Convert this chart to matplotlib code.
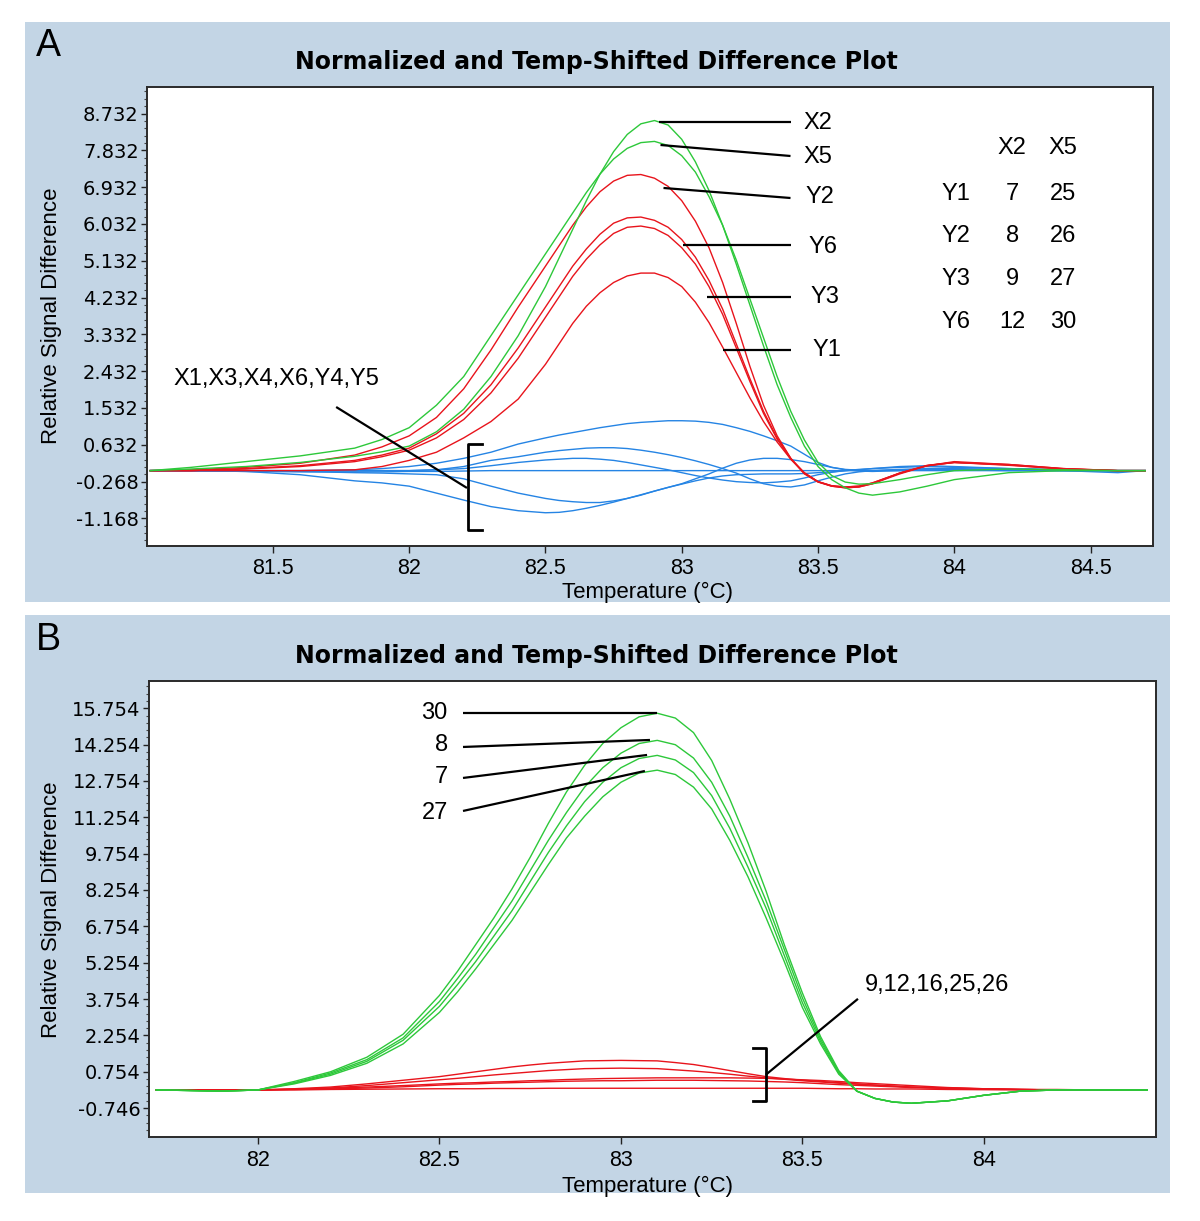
import matplotlib
matplotlib.use("Agg")
import matplotlib.pyplot as plt
from matplotlib.patches import Rectangle
from matplotlib.ticker import FixedLocator, NullFormatter

# ---------------- data : panel A ----------------
TEMP_A = [81.05, 81.2, 81.4, 81.6, 81.8, 81.9, 82.0, 82.1, 82.2, 82.3, 82.4,
          82.5, 82.55, 82.6, 82.65, 82.7, 82.75, 82.8, 82.85, 82.9, 82.95,
          83.0, 83.05, 83.1, 83.15, 83.2, 83.25, 83.3, 83.35, 83.4, 83.45,
          83.5, 83.55, 83.6, 83.65, 83.7, 83.8, 83.9, 84.0, 84.2, 84.4, 84.6, 84.7]

A_X2 = [0.0, 0.04, 0.1, 0.2, 0.35, 0.46, 0.6, 0.95, 1.5, 2.3, 3.3,
        4.5, 5.2, 5.9, 6.6, 7.25, 7.8, 8.22, 8.48, 8.56, 8.45,
        8.1, 7.55, 6.85, 6.0, 5.05, 4.05, 3.05, 2.1, 1.3, 0.6,
        0.1, -0.22, -0.42, -0.55, -0.6, -0.52, -0.38, -0.22, -0.05, 0.0, 0.0, 0.0]
A_X5 = [0.0, 0.08, 0.22, 0.36, 0.55, 0.76, 1.05, 1.6, 2.3, 3.3, 4.3,
        5.3, 5.8, 6.3, 6.8, 7.25, 7.62, 7.88, 8.02, 8.05, 7.95,
        7.7, 7.3, 6.7, 6.0, 5.15, 4.2, 3.25, 2.3, 1.45, 0.75,
        0.2, -0.12, -0.28, -0.33, -0.32, -0.22, -0.1, 0.0, 0.04, 0.02, 0.0, 0.0]
A_Y2 = [0.0, 0.02, 0.08, 0.18, 0.38, 0.58, 0.85, 1.3, 2.0, 2.95, 4.0,
        5.0, 5.5, 6.0, 6.45, 6.82, 7.08, 7.22, 7.24, 7.15, 6.95,
        6.6, 6.1, 5.45, 4.6, 3.6, 2.55, 1.6, 0.85, 0.3, -0.08,
        -0.28, -0.38, -0.42, -0.4, -0.32, -0.08, 0.12, 0.22, 0.15, 0.05, 0.0, 0.0]
A_Y6 = [0.0, 0.0, 0.05, 0.12, 0.25, 0.38, 0.55, 0.9, 1.4, 2.1, 3.0,
        4.0, 4.5, 5.0, 5.42, 5.78, 6.05, 6.18, 6.2, 6.12, 5.95,
        5.65, 5.22, 4.65, 3.95, 3.1, 2.25, 1.45, 0.8, 0.3, -0.06,
        -0.27, -0.37, -0.4, -0.38, -0.3, -0.06, 0.12, 0.2, 0.14, 0.04, 0.0, 0.0]
A_Y3 = [0.0, 0.0, 0.04, 0.1, 0.22, 0.34, 0.5, 0.8, 1.25, 1.9, 2.75,
        3.75, 4.25, 4.75, 5.17, 5.52, 5.8, 5.95, 5.98, 5.92, 5.75,
        5.45, 5.05, 4.5, 3.82, 3.0, 2.18, 1.4, 0.77, 0.28, -0.07,
        -0.27, -0.37, -0.4, -0.38, -0.3, -0.06, 0.12, 0.2, 0.13, 0.04, 0.0, 0.0]
A_Y1 = [0.0, 0.0, 0.0, 0.0, 0.02, 0.1, 0.25, 0.45, 0.8, 1.2, 1.75,
        2.6, 3.1, 3.6, 4.02, 4.35, 4.6, 4.76, 4.83, 4.83, 4.72,
        4.5, 4.12, 3.62, 3.02, 2.4, 1.78, 1.2, 0.7, 0.28, -0.05,
        -0.27, -0.38, -0.42, -0.4, -0.32, -0.06, 0.13, 0.2, 0.15, 0.05, 0.0, 0.0]

A_B1 = [0.0, 0.0, 0.0, 0.0, 0.02, 0.05, 0.1, 0.18, 0.3, 0.45, 0.65,
        0.8, 0.87, 0.93, 0.99, 1.05, 1.1, 1.15, 1.18, 1.2, 1.22,
        1.22, 1.21, 1.18, 1.13, 1.05, 0.96, 0.85, 0.73, 0.6, 0.4,
        0.2, 0.08, 0.03, 0.01, 0.0, 0.02, 0.05, 0.05, 0.03, 0.0, 0.0, 0.0]
A_B2 = [0.0, 0.0, 0.0, 0.0, 0.0, 0.0, 0.0, 0.02, 0.1, 0.25, 0.34,
        0.45, 0.49, 0.52, 0.55, 0.56, 0.56, 0.54, 0.5, 0.45, 0.39,
        0.32, 0.24, 0.15, 0.05, -0.06, -0.2, -0.32, -0.38, -0.4, -0.35,
        -0.25, -0.16, -0.08, -0.03, 0.0, 0.03, 0.04, 0.03, 0.02, 0.0, 0.0, 0.0]
A_B3 = [0.0, 0.0, 0.0, 0.0, 0.0, 0.0, 0.0, 0.02, 0.05, 0.12, 0.2,
        0.26, 0.28, 0.3, 0.3, 0.28, 0.25, 0.2, 0.14, 0.08, 0.02,
        -0.05, -0.12, -0.18, -0.23, -0.27, -0.29, -0.3, -0.28, -0.25, -0.18,
        -0.1, -0.04, 0.0, 0.03, 0.05, 0.08, 0.1, 0.08, 0.05, 0.02, 0.0, 0.0]
A_B4 = [0.0, 0.0, -0.02, -0.03, -0.03, -0.03, -0.02, -0.02, -0.01, 0.0, 0.0,
        0.0, 0.0, 0.0, 0.0, 0.0, 0.0, 0.0, 0.0, 0.0, 0.0,
        0.0, 0.0, 0.0, 0.0, 0.0, 0.0, 0.0, 0.0, 0.0, 0.0,
        0.0, 0.0, 0.0, 0.0, 0.0, 0.0, 0.0, 0.0, 0.0, 0.0, -0.05, 0.0]
A_B5 = [0.0, 0.0, 0.0, -0.02, -0.05, -0.06, -0.08, -0.1, -0.2, -0.38, -0.55,
        -0.68, -0.73, -0.76, -0.78, -0.78, -0.74, -0.68, -0.6, -0.5, -0.41,
        -0.32, -0.2, -0.08, 0.06, 0.18, 0.26, 0.3, 0.3, 0.27, 0.22,
        0.15, 0.08, 0.02, -0.01, -0.02, 0.0, 0.02, 0.02, 0.0, 0.0, 0.0, 0.0]
A_B6 = [0.0, 0.0, -0.02, -0.1, -0.25, -0.3, -0.38, -0.55, -0.72, -0.88, -0.98,
        -1.03, -1.02, -0.98, -0.92, -0.85, -0.77, -0.68, -0.59, -0.5, -0.41,
        -0.33, -0.25, -0.18, -0.13, -0.1, -0.09, -0.08, -0.08, -0.08, -0.07,
        -0.05, -0.03, 0.0, 0.02, 0.05, 0.1, 0.12, 0.1, 0.05, 0.02, 0.0, 0.0]

A_XTICKS = [81.5, 82, 82.5, 83, 83.5, 84, 84.5]
A_XLABELS = ["81.5", "82", "82.5", "83", "83.5", "84", "84.5"]
A_YTICKS = [8.732, 7.832, 6.932, 6.032, 5.132, 4.232, 3.332, 2.432, 1.532, 0.632, -0.268, -1.168]
A_YLABELS = ["8.732", "7.832", "6.932", "6.032", "5.132", "4.232", "3.332", "2.432", "1.532",
             "0.632", "-0.268", "-1.168"]

# ---------------- data : panel B ----------------
TEMP_B = [81.72, 81.8, 81.9, 82.0, 82.1, 82.2, 82.3, 82.4,
          82.5, 82.55, 82.6, 82.65, 82.7, 82.75, 82.8, 82.85, 82.9, 82.95,
          83.0, 83.05, 83.1, 83.15, 83.2, 83.25, 83.3, 83.35, 83.4, 83.45,
          83.5, 83.55, 83.6, 83.65, 83.7, 83.75, 83.8,
          83.9, 84.0, 84.1, 84.2, 84.3, 84.45]

B_30 = [0.0, -0.02, -0.05, 0.0, 0.35, 0.75, 1.35, 2.3,
        3.9, 4.9, 6.0, 7.1, 8.3, 9.6, 11.0, 12.3, 13.4, 14.3,
        14.95, 15.4, 15.55, 15.35, 14.75, 13.6, 12.0, 10.2, 8.2, 6.0,
        4.0, 2.2, 0.8, -0.05, -0.35, -0.5, -0.55,
        -0.45, -0.22, -0.05, 0.0, 0.0, 0.0]
B_8 = [0.0, -0.02, -0.05, 0.0, 0.3, 0.7, 1.25, 2.15,
       3.65, 4.6, 5.6, 6.7, 7.8, 9.05, 10.3, 11.45, 12.5, 13.3,
       13.9, 14.3, 14.43, 14.25, 13.7, 12.7, 11.3, 9.6, 7.8, 5.8,
       3.8, 2.1, 0.75, -0.05, -0.35, -0.5, -0.55,
       -0.45, -0.22, -0.05, 0.0, 0.0, 0.0]
B_7 = [0.0, -0.02, -0.05, 0.0, 0.28, 0.65, 1.18, 2.05,
       3.45, 4.35, 5.3, 6.35, 7.4, 8.6, 9.8, 10.9, 11.9, 12.7,
       13.3, 13.68, 13.81, 13.62, 13.1, 12.15, 10.8, 9.2, 7.5, 5.55,
       3.6, 2.0, 0.7, -0.05, -0.35, -0.5, -0.55,
       -0.45, -0.22, -0.05, 0.0, 0.0, 0.0]
B_27 = [0.0, -0.02, -0.05, 0.0, 0.25, 0.6, 1.1, 1.9,
        3.2, 4.05, 5.0, 6.0, 7.0, 8.15, 9.3, 10.4, 11.3, 12.1,
        12.7, 13.08, 13.2, 13.02, 12.5, 11.6, 10.3, 8.8, 7.1, 5.3,
        3.4, 1.9, 0.65, -0.05, -0.35, -0.5, -0.55,
        -0.45, -0.22, -0.05, 0.0, 0.0, 0.0]

B_R1 = [0.0, 0.0, 0.0, 0.0, 0.05, 0.12, 0.25, 0.4,
        0.55, 0.65, 0.75, 0.85, 0.95, 1.03, 1.1, 1.15, 1.2, 1.21,
        1.22, 1.21, 1.2, 1.13, 1.05, 0.93, 0.8, 0.67, 0.55, 0.47,
        0.4, 0.35, 0.3, 0.25, 0.2, 0.16, 0.12,
        0.08, 0.05, 0.02, 0.02, 0.0, 0.0]
B_R2 = [0.0, 0.0, 0.0, 0.0, 0.03, 0.08, 0.18, 0.3,
        0.42, 0.48, 0.55, 0.62, 0.68, 0.74, 0.8, 0.84, 0.88, 0.89,
        0.9, 0.89, 0.88, 0.83, 0.78, 0.72, 0.65, 0.57, 0.5, 0.44,
        0.38, 0.33, 0.28, 0.24, 0.2, 0.16, 0.12,
        0.08, 0.04, 0.02, 0.0, 0.0, 0.0]
B_R3 = [0.0, 0.0, 0.0, 0.0, 0.03, 0.07, 0.12, 0.18,
        0.25, 0.28, 0.3, 0.33, 0.35, 0.38, 0.4, 0.43, 0.45, 0.47,
        0.48, 0.49, 0.5, 0.5, 0.5, 0.5, 0.5, 0.49, 0.48, 0.45,
        0.42, 0.39, 0.35, 0.3, 0.26, 0.22, 0.18,
        0.1, 0.05, 0.02, 0.0, 0.0, 0.0]
B_R4 = [0.0, 0.0, 0.0, 0.0, 0.02, 0.04, 0.08, 0.13,
        0.2, 0.23, 0.25, 0.28, 0.3, 0.32, 0.34, 0.36, 0.37, 0.38,
        0.38, 0.39, 0.4, 0.4, 0.4, 0.39, 0.38, 0.37, 0.35, 0.33,
        0.3, 0.26, 0.22, 0.19, 0.16, 0.13, 0.1,
        0.06, 0.04, 0.02, 0.0, 0.0, 0.0]
B_R5 = [0.0, 0.0, 0.0, 0.0, 0.0, 0.02, 0.03, 0.04,
        0.05, 0.05, 0.05, 0.06, 0.06, 0.06, 0.07, 0.07, 0.07, 0.07,
        0.07, 0.07, 0.07, 0.07, 0.07, 0.07, 0.07, 0.07, 0.07, 0.07,
        0.07, 0.06, 0.05, 0.05, 0.04, 0.04, 0.04,
        0.02, 0.01, 0.0, 0.0, 0.0, 0.0]

B_XTICKS = [82, 82.5, 83, 83.5, 84]
B_XLABELS = ["82", "82.5", "83", "83.5", "84"]
B_YTICKS = [15.754, 14.254, 12.754, 11.254, 9.754, 8.254, 6.754, 5.254, 3.754, 2.254, 0.754, -0.746]
B_YLABELS = ["15.754", "14.254", "12.754", "11.254", "9.754", "8.254", "6.754", "5.254",
             "3.754", "2.254", "0.754", "-0.746"]

TITLE = "Normalized and Temp-Shifted Difference Plot"
YLABEL = "Relative Signal Difference"
XLABEL = "Temperature (\u00b0C)"

# ---------------- style ----------------
W, H = 1200, 1221
PANEL = "#c3d5e5"
GREEN = "#2dc83a"
RED = "#e8141c"
BLUE = "#2584e4"
LW = 1.0
SANS = "Liberation Sans"

fig = plt.figure(figsize=(W / 100, H / 100), dpi=100)
fig.patch.set_facecolor("white")


def fx(px):
    return px / W


def fy(py):
    return 1 - py / H


def panel(top, bottom):
    fig.add_artist(Rectangle((fx(25), fy(bottom)), fx(1170) - fx(25), fy(top) - fy(bottom),
                             transform=fig.transFigure, facecolor=PANEL, edgecolor="none", zorder=0))


panel(22, 602)
panel(615, 1193)


def style_axes(ax, xlim, ylim, xt, xl, yt, yl, minor_step):
    ax.set_facecolor("white")
    ax.set_xlim(*xlim)
    ax.set_ylim(*ylim)
    ax.set_xticks(xt)
    ax.set_xticklabels(xl, fontsize=15.5, family=SANS)
    ax.set_yticks(yt)
    ax.set_yticklabels(yl, fontsize=14, family="DejaVu Sans")
    minors = []
    for t in yt:
        for k in range(1, 5):
            v = t + k * minor_step
            if ylim[0] < v < ylim[1]:
                minors.append(v)
    for k in range(1, 5):
        v = yt[-1] - k * minor_step
        if ylim[0] < v < ylim[1]:
            minors.append(v)
    ax.yaxis.set_minor_locator(FixedLocator(minors))
    ax.yaxis.set_minor_formatter(NullFormatter())
    ax.tick_params(axis="y", which="major", direction="out", length=4, width=1, pad=2, colors="#222222")
    ax.tick_params(axis="y", which="minor", direction="out", length=2.5, width=0.8, colors="#444444")
    ax.tick_params(axis="x", which="major", direction="out", length=5, width=1, pad=4, colors="#222222")
    for sp in ax.spines.values():
        sp.set_color("#2a2a2a")
        sp.set_linewidth(1.4)
    for lab in ax.get_xticklabels() + ax.get_yticklabels():
        lab.set_color("black")


# ---------------- panel A ----------------
axA = fig.add_axes([fx(147), fy(546), fx(1153) - fx(147), fy(87) - fy(546)])
style_axes(axA, (81.038, 84.729), (-1.843, 9.38), A_XTICKS, A_XLABELS, A_YTICKS, A_YLABELS, 0.18)

for s in [A_B1, A_B2, A_B3, A_B4, A_B5, A_B6]:
    axA.plot(TEMP_A, s, color=BLUE, lw=LW)
for s in [A_Y2, A_Y6, A_Y3, A_Y1]:
    axA.plot(TEMP_A, s, color=RED, lw=LW)
for s in [A_X2, A_X5]:
    axA.plot(TEMP_A, s, color=GREEN, lw=LW)

ann_kw = dict(color="black", lw=1.6, solid_capstyle="butt")
lab_kw = dict(fontsize=17, family=SANS, color="black", va="center")

# leader lines to curves
A_LEADERS = [("X2", (82.915, 8.524), (83.399, 8.524), (83.446, 8.50)),
             ("X5", (82.922, 7.962), (83.399, 7.693), (83.446, 7.67)),
             ("Y2", (82.933, 6.911), (83.399, 6.666), (83.453, 6.69)),
             ("Y6", (83.006, 5.517), (83.399, 5.517), (83.464, 5.47)),
             ("Y3", (83.094, 4.246), (83.399, 4.246), (83.471, 4.25)),
             ("Y1", (83.153, 2.950), (83.399, 2.950), (83.478, 2.95))]
for name, p0, p1, pt in A_LEADERS:
    axA.plot([p0[0], p1[0]], [p0[1], p1[1]], **ann_kw)
    axA.text(pt[0], pt[1], name, ha="left", **lab_kw)

# crossing table
TABLE_COLS = ["X2", "X5"]
TABLE_ROWS = ["Y1", "Y2", "Y3", "Y6"]
TABLE_VALS = [["7", "25"], ["8", "26"], ["9", "27"], ["12", "30"]]
col_x = [84.212, 84.398]
row_y = [6.764, 5.737, 4.686, 3.634]
for c, x in zip(TABLE_COLS, col_x):
    axA.text(x, 7.886, c, ha="center", **lab_kw)
for r, y, vals in zip(TABLE_ROWS, row_y, TABLE_VALS):
    axA.text(84.005, y, r, ha="center", **lab_kw)
    for v, x in zip(vals, col_x):
        axA.text(x, y, v, ha="center", **lab_kw)

# bracket for flat curves
axA.text(81.513, 2.241, "X1,X3,X4,X6,Y4,Y5", ha="center", **lab_kw)
axA.plot([81.732, 82.212], [1.556, -0.424], **ann_kw)
axA.plot([82.267, 82.215, 82.215, 82.267], [0.651, 0.651, -1.452, -1.452], color="black", lw=2.0)

# ---------------- panel B ----------------
axB = fig.add_axes([fx(149), fy(1137), fx(1156) - fx(149), fy(681) - fy(1137)])
style_axes(axB, (81.70, 84.474), (-1.942, 16.88), B_XTICKS, B_XLABELS, B_YTICKS, B_YLABELS, 0.3)

for s in [B_R5, B_R4, B_R3, B_R2, B_R1]:
    axB.plot(TEMP_B, s, color=RED, lw=LW)
for s in [B_27, B_7, B_8, B_30]:
    axB.plot(TEMP_B, s, color=GREEN, lw=LW)

B_LEADERS = [("30", (82.565, 15.56), (83.099, 15.56), (82.523, 15.56)),
             ("8", (82.565, 14.157), (83.080, 14.446), (82.523, 14.24)),
             ("7", (82.565, 12.878), (83.072, 13.827), (82.523, 12.93)),
             ("27", (82.565, 11.516), (83.066, 13.166), (82.523, 11.44))]
for name, p0, p1, pt in B_LEADERS:
    axB.plot([p0[0], p1[0]], [p0[1], p1[1]], **ann_kw)
    axB.text(pt[0], pt[1], name, ha="right", **lab_kw)

axB.text(83.672, 4.34, "9,12,16,25,26", ha="left", **lab_kw)
axB.plot([83.653, 83.399], [3.761, 0.626], **ann_kw)
axB.plot([83.364, 83.399, 83.399, 83.364], [1.721, 1.721, -0.465, -0.465], color="black", lw=2.0)

# ---------------- figure texts ----------------
for top, letter in [(0, "A"), (594, "B")]:
    fig.text(fx(36), fy(46 + top), letter, fontsize=27, family=SANS, ha="left", va="center")
    fig.text(fx(596), fy(62 + top), TITLE, fontsize=17, fontweight="heavy", family="DejaVu Sans",
             ha="center", va="center")
    fig.text(fx(52), fy(316 + top), YLABEL, fontsize=16, family=SANS, rotation=90,
             ha="center", va="center")
    fig.text(fx(648), fy(592 + top), XLABEL, fontsize=16, family=SANS, ha="center", va="center")

fig.savefig("out.png", dpi=100, facecolor="white")
